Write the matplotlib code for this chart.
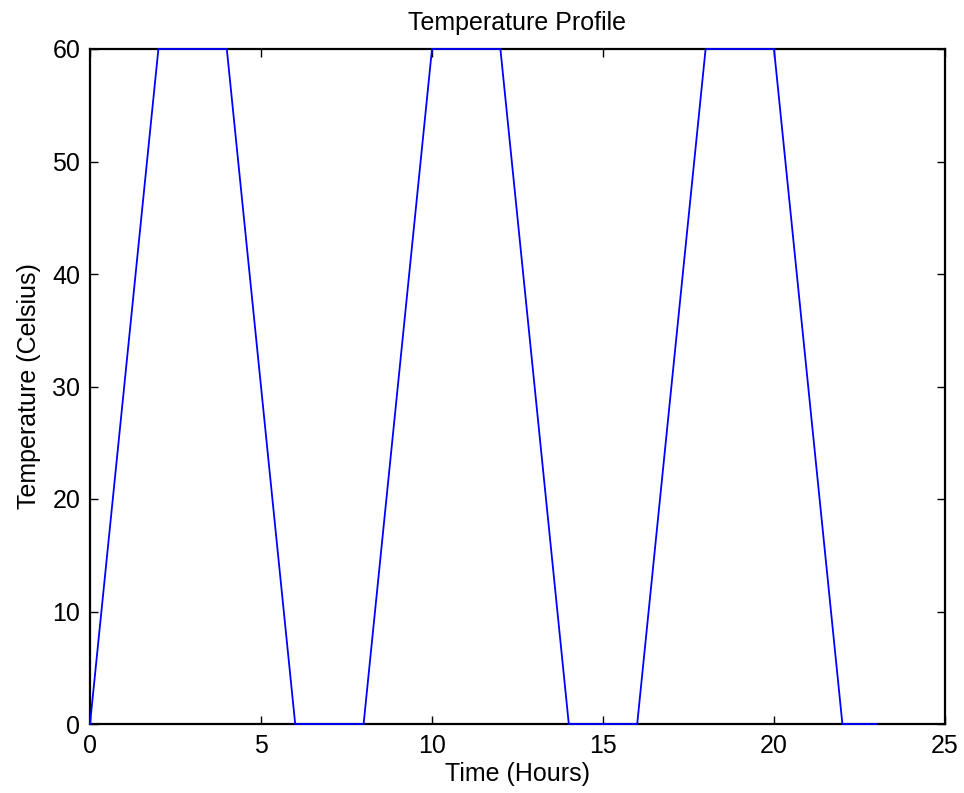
import matplotlib
matplotlib.use("Agg")
import matplotlib.pyplot as plt

plt.rcParams['font.family'] = ['Liberation Sans', 'DejaVu Sans']

time_hours = [0, 2, 4, 6, 8, 10, 12, 14, 16, 18, 20, 22, 23]
temperature_c = [0, 60, 60, 0, 0, 60, 60, 0, 0, 60, 60, 0, 0]
x_ticks = [0, 5, 10, 15, 20, 25]
y_ticks = [0, 10, 20, 30, 40, 50, 60]

fig = plt.figure(figsize=(9.64, 7.93), dpi=100)
ax = fig.add_axes([90/964, 1-724/793, (945-90)/964, (724-49)/793])
ax.plot(time_hours, temperature_c, color='#0000ff', linewidth=1.3,
        clip_on=False, zorder=5)
ax.set_xlim(0, 25)
ax.set_ylim(0, 60)
ax.set_xticks(x_ticks)
ax.set_yticks(y_ticks)
ax.tick_params(direction='in', top=True, right=True, length=6, width=1, labelsize=18, pad=7)
for s in ax.spines.values():
    s.set_linewidth(1.6)
ax.set_xlabel('Time (Hours)', fontsize=18, labelpad=3)
ax.set_ylabel('Temperature (Celsius)', fontsize=18, labelpad=8)
ax.set_title('Temperature Profile', fontsize=18, pad=14)
fig.savefig('out.png', dpi=100)
